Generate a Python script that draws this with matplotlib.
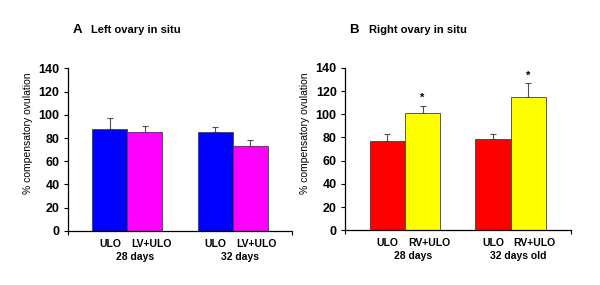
"""Compensatory ovulation after unilateral ovariectomy: left vs right ovary in situ."""

import matplotlib
matplotlib.use("Agg")
import matplotlib.pyplot as plt

# Panel A: left ovary in situ
left_labels = ["ULO", "LV+ULO", "ULO", "LV+ULO"]
left_groups = ["28 days", "32 days"]
left_values = [87.5, 85.2, 85.4, 72.9]
left_errors = [10.0, 5.4, 4.3, 5.4]
left_colors = ["#0000FF", "#FF00FF", "#0000FF", "#FF00FF"]
left_stars = [False, False, False, False]

# Panel B: right ovary in situ
right_labels = ["ULO", "RV+ULO", "ULO", "RV+ULO"]
right_groups = ["28 days", "32 days old"]
right_values = [76.6, 101.5, 78.3, 114.5]
right_errors = [6.5, 5.5, 4.8, 12.0]
right_colors = ["#FF0000", "#FFFF00", "#FF0000", "#FFFF00"]
right_stars = [False, True, False, True]

positions = [1.2, 2.2, 4.2, 5.2]
group_centers = [1.7, 4.7]

plt.rcParams["font.family"] = ["Liberation Sans", "DejaVu Sans"]
plt.rcParams["font.weight"] = "bold"

fig = plt.figure(figsize=(6.0, 2.85), dpi=100)
fig.set_facecolor("white")


def draw_panel(ax, values, errors, colors, labels, groups, stars, letter, title):
    ax.bar(positions, values, width=1.0, color=colors, edgecolor="#404040",
           linewidth=0.6, zorder=2)
    ax.errorbar(positions, values, yerr=[[0] * len(errors), errors], fmt="none",
                ecolor="#505050", elinewidth=0.8, capsize=2.5, capthick=0.8, zorder=1)
    for x, v, e, s in zip(positions, values, errors, stars):
        if s:
            ax.text(x, v + e + 2.5, "*", ha="center", va="bottom", fontsize=8,
                    fontweight="bold")

    ax.set_xlim(0, 6.4)
    ax.set_ylim(0, 140)
    ax.set_yticks(range(0, 141, 20))
    ax.set_xticks([0, 6.4])
    ax.set_xticklabels([])
    ax.tick_params(axis="y", direction="out", length=3, width=0.8, labelsize=9, pad=3)
    ax.tick_params(axis="x", direction="out", length=3, width=0.8)
    for lbl in ax.get_yticklabels():
        lbl.set_fontweight("bold")
    ax.spines["top"].set_visible(False)
    ax.spines["right"].set_visible(False)
    ax.spines["left"].set_linewidth(0.9)
    ax.spines["bottom"].set_linewidth(0.9)
    ax.set_ylabel("% compensatory ovulation", fontsize=7.5, fontweight="normal")
    ax.yaxis.set_label_coords(-0.155, 0.6)

    # treatment labels sit a bit right of their bars, as in the original
    trans = ax.get_xaxis_transform()
    for i, (x, lab) in enumerate(zip(positions, labels)):
        shift = 0.18 if i % 2 else 0.0
        ax.text(x + shift, -0.08, lab, transform=trans, ha="center", va="center",
                fontsize=7.5, fontweight="bold")
    for x, g in zip(group_centers, groups):
        ax.text(x + 0.22, -0.16, g, transform=trans, ha="center", va="center",
                fontsize=7.5, fontweight="bold")

    ax.text(0.02, 1.235, letter, transform=ax.transAxes, ha="left", va="center",
            fontsize=9.5, fontweight="bold")
    ax.text(0.105, 1.235, title, transform=ax.transAxes, ha="left", va="center",
            fontsize=8, fontweight="bold")


ax1 = fig.add_axes([0.113, 0.19, 0.374, 0.57])
draw_panel(ax1, left_values, left_errors, left_colors, left_labels, left_groups,
           left_stars, "A", "Left ovary in situ")

ax2 = fig.add_axes([0.575, 0.192, 0.376, 0.57])
draw_panel(ax2, right_values, right_errors, right_colors, right_labels, right_groups,
           right_stars, "B", "Right ovary in situ")

fig.savefig("out.png", dpi=100, facecolor="white")
